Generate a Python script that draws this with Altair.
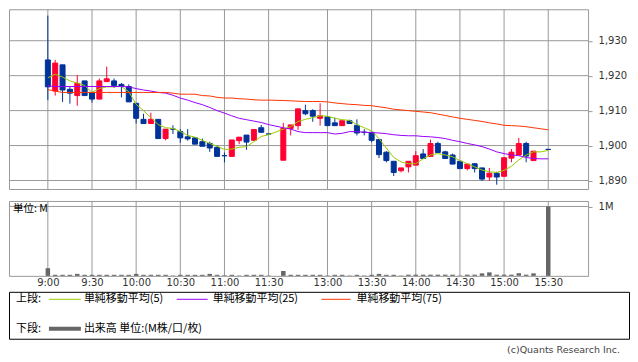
import altair as alt
import pandas as pd

# ---------------- data ----------------
times = [
    "9:00", "9:05", "9:10", "9:15", "9:20", "9:25", "9:30", "9:35", "9:40", "9:45", "9:50", "9:55",
    "10:00", "10:05", "10:10", "10:15", "10:20", "10:25", "10:30", "10:35", "10:40", "10:45", "10:50", "10:55",
    "11:00", "11:05", "11:10", "11:15", "11:20", "11:25", "11:30",
    "12:30", "12:35", "12:40", "12:45", "12:50", "12:55",
    "13:00", "13:05", "13:10", "13:15", "13:20", "13:25", "13:30", "13:35", "13:40", "13:45", "13:50", "13:55",
    "14:00", "14:05", "14:10", "14:15", "14:20", "14:25", "14:30", "14:35", "14:40", "14:45", "14:50", "14:55",
    "15:00", "15:05", "15:10", "15:15", "15:20", "15:25", "15:30",
]

opens = [
    1924.5, 1915.6, 1923.1, 1916.1, 1914.3, 1918.5, 1915.2, 1913.3, 1918.3, 1918.5, 1917.5, 1916.9,
    1912.1, 1907.5, 1906.3, 1907.5, 1902.0, 1904.7, 1904.0, 1902.5, 1902.2, 1901.1, 1900.6, 1899.5,
    1897.1, 1896.9, 1901.4, 1903.0, 1901.5, 1905.1, 1903.3,
    1895.8, 1904.9, 1905.7, 1910.0, 1910.0, 1907.8,
    1908.2, 1906.5, 1905.7, 1907.1, 1905.8, 1903.8, 1903.8, 1901.7, 1898.1, 1895.5, 1892.8, 1893.9,
    1894.4, 1897.6, 1896.9, 1900.6, 1898.2, 1897.3, 1895.5, 1893.4, 1894.8, 1893.6, 1891.0, 1892.1,
    1891.2, 1896.4, 1897.3, 1900.6, 1895.7, None, 1898.9,
]
highs = [
    1937.2, 1924.5, 1923.1, 1916.9, 1920.2, 1918.5, 1915.2, 1919.2, 1922.6, 1919.2, 1917.9, 1917.5,
    1912.1, 1909.1, 1909.4, 1907.5, 1904.7, 1905.8, 1904.7, 1904.7, 1902.4, 1902.0, 1901.1, 1900.0,
    1898.0, 1901.6, 1902.4, 1903.0, 1904.6, 1905.9, 1903.3,
    1906.5, 1905.9, 1910.5, 1911.7, 1910.4, 1912.1,
    1908.2, 1908.0, 1907.4, 1907.4, 1907.5, 1904.7, 1903.8, 1901.7, 1898.4, 1895.5, 1893.6, 1895.5,
    1898.4, 1899.0, 1901.7, 1901.1, 1898.5, 1897.7, 1895.5, 1894.7, 1894.8, 1893.6, 1893.6, 1892.5,
    1896.5, 1899.0, 1902.2, 1901.1, 1898.4, None, 1898.9,
]
lows = [
    1913.0, 1914.3, 1912.5, 1912.0, 1911.4, 1914.3, 1912.3, 1913.3, 1918.3, 1916.5, 1913.8, 1912.5,
    1906.3, 1906.3, 1906.3, 1902.0, 1901.5, 1903.3, 1900.8, 1901.4, 1900.4, 1899.8, 1898.2, 1896.9,
    1895.2, 1896.9, 1900.4, 1898.8, 1901.5, 1903.8, 1903.3,
    1895.8, 1902.9, 1904.5, 1908.7, 1906.8, 1905.7,
    1905.7, 1905.7, 1905.7, 1906.3, 1902.9, 1902.9, 1900.9, 1896.4, 1895.2, 1891.3, 1892.3, 1892.3,
    1894.4, 1896.3, 1896.9, 1898.0, 1896.3, 1894.7, 1893.4, 1892.9, 1892.3, 1889.9, 1889.9, 1888.8,
    1891.2, 1895.2, 1897.3, 1895.2, 1895.7, None, 1898.9,
]
closes = [
    1916.8, 1923.6, 1915.9, 1915.0, 1917.8, 1914.3, 1913.3, 1918.5, 1919.1, 1917.2, 1917.0, 1912.5,
    1907.8, 1906.3, 1907.5, 1902.0, 1904.7, 1904.7, 1902.2, 1901.9, 1900.4, 1899.8, 1899.3, 1896.9,
    1897.1, 1901.6, 1902.4, 1901.0, 1904.6, 1903.8, 1903.3,
    1904.9, 1905.9, 1910.5, 1909.1, 1908.4, 1908.5,
    1905.7, 1905.7, 1907.1, 1906.3, 1903.6, 1903.8, 1901.5, 1897.4, 1895.7, 1892.3, 1893.6, 1895.5,
    1897.1, 1896.3, 1900.6, 1898.0, 1896.3, 1894.7, 1893.4, 1894.7, 1893.4, 1890.4, 1892.1, 1891.0,
    1896.5, 1898.1, 1900.6, 1897.0, 1898.4, None, 1898.9,
]
ma5 = [
    1919.4, 1920.4, 1919.6, 1918.5, 1917.9, 1917.2, 1915.2, 1916.3, 1916.8, 1916.8, 1916.9, 1915.4,
    1911.8, 1910.0, 1908.0, 1906.0, 1905.1, 1904.9, 1904.0, 1902.9, 1902.4, 1901.5, 1900.6, 1899.8,
    1898.9, 1899.0, 1899.5, 1899.7, 1901.1, 1902.6, 1903.1,
    1904.7, 1905.4, 1906.9, 1907.5, 1908.0, 1908.5,
    1908.4, 1907.8, 1907.4, 1907.2, 1906.0, 1905.1, 1904.2, 1902.0, 1899.3, 1896.6, 1895.3, 1894.8,
    1894.8, 1896.2, 1897.3, 1897.7, 1897.3, 1896.8, 1895.7, 1894.8, 1893.9, 1893.0, 1892.5, 1892.3,
    1892.9, 1894.1, 1895.9, 1897.3, 1898.2, 1898.2, 1898.6,
]
ma25 = [
    1917.1, 1916.9, 1916.9, 1916.9, 1916.9, 1916.9, 1916.9, 1916.9, 1916.9, 1916.9, 1916.9, 1916.8,
    1916.3, 1915.9, 1915.6, 1915.2, 1915.0, 1914.4, 1913.6, 1913.0, 1912.3, 1911.7, 1910.9, 1910.0,
    1909.3, 1908.5, 1907.8, 1907.4, 1907.0, 1906.6, 1906.0,
    1905.1, 1904.7, 1904.0, 1903.7, 1903.7, 1903.7,
    1903.7, 1903.3, 1903.5, 1904.0, 1904.0, 1903.8, 1903.7, 1903.6, 1903.4, 1903.1, 1902.9, 1902.8,
    1902.8, 1902.6, 1902.5, 1902.3, 1902.0, 1901.5, 1901.1, 1900.6, 1900.2, 1899.7, 1899.0, 1898.2,
    1897.7, 1897.3, 1897.1, 1896.6, 1896.3, 1896.2, 1896.2,
]
ma75 = [
    1916.0, 1915.6, 1915.2, 1915.2, 1915.2, 1915.2, 1915.2, 1915.2, 1915.2, 1915.2, 1915.2, 1915.2,
    1915.2, 1915.2, 1915.2, 1915.2, 1915.2, 1915.0, 1914.7, 1914.7, 1914.7, 1914.3, 1914.2, 1913.8,
    1913.6, 1913.6, 1913.4, 1913.3, 1913.1, 1913.0, 1913.0,
    1912.9, 1912.8, 1912.7, 1912.6, 1912.6, 1912.6,
    1912.5, 1912.2, 1912.0, 1911.8, 1911.7, 1911.5, 1911.4, 1911.1, 1910.8, 1910.4, 1910.2, 1910.0,
    1909.8, 1909.6, 1909.4, 1909.0, 1908.6, 1908.2, 1907.8, 1907.5, 1907.2, 1906.9, 1906.5, 1906.2,
    1905.8, 1905.7, 1905.6, 1905.4, 1905.1, 1904.8, 1904.5,
]
volume_m = [
    0.110, 0.015, 0.015, 0.015, 0.028, 0.015, 0.015, 0.015, 0.015, 0.015, 0.015, 0.015,
    0.028, 0.015, 0.015, 0.015, 0.015, 0.005, 0.015, 0.015, 0.015, 0.015, 0.028, 0.015,
    0.008, 0.015, 0.005, 0.015, 0.015, 0.015, 0.005,
    0.070, 0.015, 0.015, 0.015, 0.015, 0.015,
    0.005, 0.015, 0.015, 0.005, 0.015, 0.005, 0.015, 0.028, 0.015, 0.015, 0.005, 0.017,
    0.017, 0.017, 0.017, 0.017, 0.017, 0.017, 0.005, 0.017, 0.017, 0.036, 0.050, 0.017,
    0.017, 0.017, 0.036, 0.017, 0.036, None, 1.000,
]

tick_labels = ["9:00", "9:30", "10:00", "10:30", "11:00", "11:30",
               "13:00", "13:30", "14:00", "14:30", "15:00", "15:30"]
price_ticks = [1890, 1900, 1910, 1920, 1930]
volume_ticks = [1]
ma_names = ["単純移動平均(5)", "単純移動平均(25)", "単純移動平均(75)"]
ma_colors = ["#99cc00", "#9900ff", "#ff3300"]
up_color, down_color = "#ff0033", "#003399"


def slot_of(t):
    # 5-minute slot index; lunch break compressed to one empty slot
    h, m = t.split(":")
    mins = (int(h) - 9) * 60 + int(m)
    if mins > 150:
        mins -= 50
    return mins / 5


df = pd.DataFrame({
    "time": times,
    "slot": [slot_of(t) for t in times],
    "open": opens, "high": highs, "low": lows, "close": closes,
    "ma5": ma5, "ma25": ma25, "ma75": ma75, "volume": volume_m,
})
df["dir"] = [
    None if o is None or pd.isna(o) else ("up" if c > o else "down")
    for o, c in zip(df["open"], df["close"])
]

tick_slots = [slot_of(t) for t in tick_labels]
label_expr = "''"
for s, lab in reversed(list(zip(tick_slots, tick_labels))):
    label_expr = f"datum.value == {s} ? '{lab}' : {label_expr}"

vgrid_df = pd.DataFrame({"slot": tick_slots})
hgrid_df = pd.DataFrame({"price": price_ticks})
vol_grid_df = pd.DataFrame({"v": volume_ticks})

# ---------------- layout ----------------
W = 580
H_TOP = 180
H_VOL = 75
NUM_FONT = "DejaVu Sans"
JP_FONT = "Noto Sans CJK JP"
GRID = "#999999"

xscale = alt.Scale(domain=[-4.6, 72.7333333], nice=False, zero=False)
yscale = alt.Scale(domain=[1887.5714286, 1939.0], nice=False, zero=False)
vscale = alt.Scale(domain=[0, 1.0791367], nice=False, zero=False)
cscale = alt.Scale(domain=["up", "down"], range=[up_color, down_color])

y_top_axis = alt.Axis(orient="right", values=price_ticks, format=",d", grid=False,
                      tickColor=GRID, tickSize=4, domain=False, labelPadding=6,
                      labelFont=NUM_FONT, labelFontSize=10, labelColor="#333333",
                      title=None)

# price panel
vgrid_top = alt.Chart(vgrid_df).mark_rule(color=GRID, strokeWidth=1).encode(
    x=alt.X("slot:Q", scale=xscale, axis=None))
hgrid_top = alt.Chart(hgrid_df).mark_rule(color=GRID, strokeWidth=1).encode(
    y=alt.Y("price:Q", scale=yscale, axis=y_top_axis))

base = alt.Chart(df).encode(x=alt.X("slot:Q", scale=xscale, axis=None))
wicks = base.mark_rule(strokeWidth=1).encode(
    y=alt.Y("low:Q", scale=yscale),
    y2="high:Q",
    color=alt.Color("dir:N", scale=cscale, legend=None),
)
bodies = base.mark_bar(size=5, strokeWidth=1).encode(
    y=alt.Y("open:Q", scale=yscale),
    y2="close:Q",
    color=alt.Color("dir:N", scale=cscale, legend=None),
    stroke=alt.Stroke("dir:N", scale=cscale, legend=None),
)
ma_layers = [
    base.mark_line(color=col, strokeWidth=1).encode(y=alt.Y(f"{f}:Q", scale=yscale))
    for f, col in zip(["ma5", "ma25", "ma75"], ma_colors)
]

top = alt.layer(hgrid_top, vgrid_top, wicks, bodies, *ma_layers).properties(
    width=W, height=H_TOP,
    view=alt.ViewBackground(stroke=GRID, strokeWidth=1),
)

# volume panel
x_vol_axis = alt.Axis(values=tick_slots, labelExpr=label_expr, ticks=False, tickSize=0,
                      domain=False, grid=False, labelPadding=2, labelFont=NUM_FONT,
                      labelFontSize=10, labelColor="#333333", labelOverlap=False,
                      title=None)
y_vol_axis = alt.Axis(orient="right", values=volume_ticks, labelExpr="'1M'", grid=False,
                      tickColor=GRID, tickSize=4, domain=False, labelPadding=6,
                      labelFont=NUM_FONT, labelFontSize=10, labelColor="#333333",
                      title=None)

vgrid_vol = alt.Chart(vgrid_df).mark_rule(color=GRID, strokeWidth=1).encode(
    x=alt.X("slot:Q", scale=xscale, axis=x_vol_axis))
hgrid_vol = alt.Chart(vol_grid_df).mark_rule(color=GRID, strokeWidth=1).encode(
    y=alt.Y("v:Q", scale=vscale, axis=y_vol_axis))
vol_bars = alt.Chart(df).mark_bar(size=4.5, color="#666666").encode(
    x=alt.X("slot:Q", scale=xscale),
    y=alt.Y("volume:Q", scale=vscale),
)
unit_df = pd.DataFrame({"label": ["単位: M"]})
unit_text = alt.Chart(unit_df).mark_text(
    align="left", baseline="middle", font=JP_FONT, fontSize=10.5, color="#000000"
).encode(text="label:N", x=alt.value(4), y=alt.value(8.5))

vol = alt.layer(vgrid_vol, hgrid_vol, vol_bars, unit_text).properties(
    width=W, height=H_VOL,
    view=alt.ViewBackground(stroke=GRID, strokeWidth=1),
)

# ---------------- legend box ----------------
leg_df = pd.DataFrame({"k": [0]})
lb = alt.Chart(leg_df)
ROW1, ROW2 = 7, 37
line_x0 = [40, 168, 313]
line_x1 = [72, 199, 342]
text_x = [75, 204, 348]

leg_layers = [
    lb.mark_text(align="left", baseline="middle", font=JP_FONT, fontSize=11,
                 color="#000000", text="上段:").encode(x=alt.value(7), y=alt.value(ROW1)),
    lb.mark_text(align="left", baseline="middle", font=JP_FONT, fontSize=11,
                 color="#000000", text="下段:").encode(x=alt.value(7), y=alt.value(ROW2)),
]
for name, col, a, b, tx in zip(ma_names, ma_colors, line_x0, line_x1, text_x):
    leg_layers.append(lb.mark_rule(color=col, strokeWidth=1).encode(
        x=alt.value(a), x2=alt.value(b), y=alt.value(ROW1 + 0.5)))
    leg_layers.append(lb.mark_text(align="left", baseline="middle", font=JP_FONT,
                                   fontSize=11, color="#000000", text=name).encode(
        x=alt.value(tx), y=alt.value(ROW1)))
leg_layers.append(lb.mark_rule(color="#666666", strokeWidth=4).encode(
    x=alt.value(line_x0[0]), x2=alt.value(line_x1[0]), y=alt.value(ROW2)))
leg_layers.append(lb.mark_text(align="left", baseline="middle", font=JP_FONT,
                               fontSize=11, color="#000000",
                               text="出来高 単位:(M株/口/枚)").encode(
    x=alt.value(text_x[0]), y=alt.value(ROW2)))
leg_layers.append(lb.mark_text(align="right", baseline="middle", font=NUM_FONT,
                               fontSize=9.5, color="#444444",
                               text="(c)Quants Research Inc.").encode(
    x=alt.value(612), y=alt.value(58)))

legend_box = alt.layer(*leg_layers).properties(
    width=621, height=47,
    view=alt.ViewBackground(stroke="#000000", strokeWidth=1),
)

chart = alt.vconcat(
    alt.vconcat(top, vol, spacing=10),
    legend_box,
    spacing=2,
).properties(padding=0).configure(background="#ffffff")

chart.save("out.html", embed_options={"renderer": "svg", "actions": False})
